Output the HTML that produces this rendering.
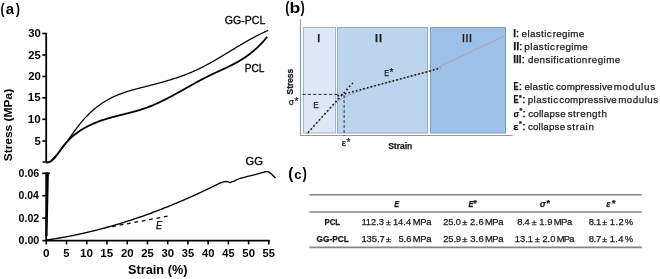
<!DOCTYPE html>
<html><head><meta charset="utf-8">
<style>
html,body{margin:0;padding:0;background:#fff;}
body{width:660px;height:279px;overflow:hidden;}
svg{display:block;font-family:"Liberation Sans", sans-serif;will-change:transform;}
text[fill="#1a1a1a"]{stroke:#1a1a1a;stroke-width:0.25px;}
</style></head>
<body>
<svg width="660" height="279" viewBox="0 0 660 279">
<rect width="660" height="279" fill="#fff"/>
<text x="0.50" y="14.30" font-size="15.4" font-weight="bold" font-style="normal" fill="#000" textLength="4.01" lengthAdjust="spacingAndGlyphs" >(</text>
<text x="5.86" y="14.30" font-size="13.9" font-weight="bold" font-style="normal" fill="#000" textLength="8.34" lengthAdjust="spacingAndGlyphs" >a</text>
<text x="15.69" y="14.30" font-size="15.4" font-weight="bold" font-style="normal" fill="#000" textLength="4.25" lengthAdjust="spacingAndGlyphs" >)</text>
<line x1="46.2" y1="32.8" x2="46.2" y2="162.0" stroke="#000" stroke-width="1.8"/>
<line x1="42.6" y1="162.0" x2="46.2" y2="162.0" stroke="#000" stroke-width="1.5"/>
<line x1="42.3" y1="33.5" x2="46.2" y2="33.5" stroke="#000" stroke-width="1.6"/>
<text x="28.34" y="37.10" font-size="10" font-weight="bold" font-style="normal" fill="#000" textLength="12.52" lengthAdjust="spacingAndGlyphs" >30</text>
<line x1="42.3" y1="55.0" x2="46.2" y2="55.0" stroke="#000" stroke-width="1.6"/>
<text x="28.21" y="58.60" font-size="10" font-weight="bold" font-style="normal" fill="#000" textLength="12.50" lengthAdjust="spacingAndGlyphs" >25</text>
<line x1="42.3" y1="76.5" x2="46.2" y2="76.5" stroke="#000" stroke-width="1.6"/>
<text x="28.21" y="80.10" font-size="10" font-weight="bold" font-style="normal" fill="#000" textLength="12.66" lengthAdjust="spacingAndGlyphs" >20</text>
<line x1="42.3" y1="97.8" x2="46.2" y2="97.8" stroke="#000" stroke-width="1.6"/>
<text x="27.87" y="101.40" font-size="10" font-weight="bold" font-style="normal" fill="#000" textLength="12.85" lengthAdjust="spacingAndGlyphs" >15</text>
<line x1="42.3" y1="119.3" x2="46.2" y2="119.3" stroke="#000" stroke-width="1.6"/>
<text x="27.86" y="122.90" font-size="10" font-weight="bold" font-style="normal" fill="#000" textLength="13.02" lengthAdjust="spacingAndGlyphs" >10</text>
<line x1="42.3" y1="141.0" x2="46.2" y2="141.0" stroke="#000" stroke-width="1.6"/>
<text x="34.45" y="144.60" font-size="10" font-weight="bold" font-style="normal" fill="#000" textLength="6.26" lengthAdjust="spacingAndGlyphs" >5</text>
<line x1="46.2" y1="172.4" x2="46.2" y2="241.4" stroke="#000" stroke-width="1.8"/>
<path d="M46.4,236 L47.1,205 L47.8,173.3" stroke="#000" stroke-width="2.2" fill="none"/>
<line x1="46.2" y1="173.2" x2="49.9" y2="173.2" stroke="#000" stroke-width="1.6"/>
<line x1="42.3" y1="173.3" x2="46.2" y2="173.3" stroke="#000" stroke-width="1.6"/>
<text x="18.58" y="176.70" font-size="10" font-weight="bold" font-style="normal" fill="#000" textLength="20.60" lengthAdjust="spacingAndGlyphs" >0.06</text>
<line x1="42.3" y1="195.7" x2="46.2" y2="195.7" stroke="#000" stroke-width="1.6"/>
<text x="18.59" y="199.10" font-size="10" font-weight="bold" font-style="normal" fill="#000" textLength="20.27" lengthAdjust="spacingAndGlyphs" >0.04</text>
<line x1="42.3" y1="218.1" x2="46.2" y2="218.1" stroke="#000" stroke-width="1.6"/>
<text x="18.58" y="221.50" font-size="10" font-weight="bold" font-style="normal" fill="#000" textLength="20.64" lengthAdjust="spacingAndGlyphs" >0.02</text>
<line x1="42.3" y1="240.6" x2="46.2" y2="240.6" stroke="#000" stroke-width="1.6"/>
<text x="18.58" y="244.00" font-size="10" font-weight="bold" font-style="normal" fill="#000" textLength="20.66" lengthAdjust="spacingAndGlyphs" >0.00</text>
<line x1="45.2" y1="240.6" x2="269.6" y2="240.6" stroke="#000" stroke-width="1.9"/>
<line x1="46.30" y1="240" x2="46.30" y2="244.4" stroke="#000" stroke-width="1.6"/>
<text x="43.03" y="257.00" font-size="10" font-weight="bold" font-style="normal" fill="#000" textLength="6.55" lengthAdjust="spacingAndGlyphs" >0</text>
<line x1="66.53" y1="240" x2="66.53" y2="244.4" stroke="#000" stroke-width="1.6"/>
<text x="63.38" y="257.00" font-size="10" font-weight="bold" font-style="normal" fill="#000" textLength="6.26" lengthAdjust="spacingAndGlyphs" >5</text>
<line x1="86.76" y1="240" x2="86.76" y2="244.4" stroke="#000" stroke-width="1.6"/>
<text x="80.12" y="257.00" font-size="10" font-weight="bold" font-style="normal" fill="#000" textLength="13.02" lengthAdjust="spacingAndGlyphs" >10</text>
<line x1="106.99" y1="240" x2="106.99" y2="244.4" stroke="#000" stroke-width="1.6"/>
<text x="100.36" y="257.00" font-size="10" font-weight="bold" font-style="normal" fill="#000" textLength="12.85" lengthAdjust="spacingAndGlyphs" >15</text>
<line x1="127.22" y1="240" x2="127.22" y2="244.4" stroke="#000" stroke-width="1.6"/>
<text x="120.93" y="257.00" font-size="10" font-weight="bold" font-style="normal" fill="#000" textLength="12.66" lengthAdjust="spacingAndGlyphs" >20</text>
<line x1="147.45" y1="240" x2="147.45" y2="244.4" stroke="#000" stroke-width="1.6"/>
<text x="141.16" y="257.00" font-size="10" font-weight="bold" font-style="normal" fill="#000" textLength="12.50" lengthAdjust="spacingAndGlyphs" >25</text>
<line x1="167.68" y1="240" x2="167.68" y2="244.4" stroke="#000" stroke-width="1.6"/>
<text x="161.52" y="257.00" font-size="10" font-weight="bold" font-style="normal" fill="#000" textLength="12.52" lengthAdjust="spacingAndGlyphs" >30</text>
<line x1="187.91" y1="240" x2="187.91" y2="244.4" stroke="#000" stroke-width="1.6"/>
<text x="181.75" y="257.00" font-size="10" font-weight="bold" font-style="normal" fill="#000" textLength="12.36" lengthAdjust="spacingAndGlyphs" >35</text>
<line x1="208.14" y1="240" x2="208.14" y2="244.4" stroke="#000" stroke-width="1.6"/>
<text x="202.07" y="257.00" font-size="10" font-weight="bold" font-style="normal" fill="#000" textLength="12.43" lengthAdjust="spacingAndGlyphs" >40</text>
<line x1="228.37" y1="240" x2="228.37" y2="244.4" stroke="#000" stroke-width="1.6"/>
<text x="222.30" y="257.00" font-size="10" font-weight="bold" font-style="normal" fill="#000" textLength="12.27" lengthAdjust="spacingAndGlyphs" >45</text>
<line x1="248.60" y1="240" x2="248.60" y2="244.4" stroke="#000" stroke-width="1.6"/>
<text x="242.35" y="257.00" font-size="10" font-weight="bold" font-style="normal" fill="#000" textLength="12.61" lengthAdjust="spacingAndGlyphs" >50</text>
<line x1="268.83" y1="240" x2="268.83" y2="244.4" stroke="#000" stroke-width="1.6"/>
<text x="262.59" y="257.00" font-size="10" font-weight="bold" font-style="normal" fill="#000" textLength="12.46" lengthAdjust="spacingAndGlyphs" >55</text>
<text x="128.13" y="274.10" font-size="11.9" font-weight="bold" font-style="normal" fill="#000" textLength="59.30" lengthAdjust="spacingAndGlyphs" >Strain (%)</text>
<g transform="translate(12.30,161.00) rotate(-90)"><text x="-0.34" y="0" font-size="11.6" font-weight="bold" font-style="normal" fill="#000" textLength="72.44" lengthAdjust="spacingAndGlyphs">Stress (MPa)</text></g>
<path d="M46.40,163.40 L47.10,163.06 L47.80,162.68 L48.50,162.26 L49.20,161.81 L49.90,161.32 L50.60,160.79 L51.30,160.23 L52.00,159.63 L52.70,159.01 L53.40,158.35 L54.10,157.67 L54.80,156.96 L55.50,156.22 L56.20,155.46 L56.90,154.68 L57.60,153.87 L58.30,153.05 L59.00,152.20 L59.70,151.34 L60.40,150.46 L61.10,149.56 L61.80,148.65 L62.50,147.73 L63.20,146.80 L63.90,145.85 L64.60,144.90 L65.30,143.94 L66.00,142.97 L66.70,141.99 L67.40,141.02 L68.10,140.03 L68.80,139.05 L69.50,138.06 L70.20,137.07 L70.90,136.08 L71.60,135.10 L72.30,134.12 L73.00,133.14 L73.70,132.17 L74.40,131.20 L75.10,130.24 L75.80,129.29 L76.50,128.35 L77.20,127.42 L77.90,126.51 L78.60,125.60 L79.30,124.71 L80.00,123.84 L80.70,122.98 L81.40,122.13 L82.10,121.30 L82.80,120.49 L83.50,119.69 L84.20,118.91 L84.90,118.14 L85.60,117.38 L86.30,116.64 L87.00,115.91 L87.70,115.19 L88.40,114.49 L89.10,113.80 L89.80,113.13 L90.50,112.47 L91.20,111.82 L91.90,111.18 L92.60,110.55 L93.30,109.94 L94.00,109.34 L94.70,108.75 L95.40,108.18 L96.10,107.61 L96.80,107.06 L97.50,106.52 L98.20,105.99 L98.90,105.47 L99.60,104.96 L100.30,104.46 L101.00,103.97 L101.70,103.49 L102.40,103.03 L103.10,102.57 L103.80,102.12 L104.50,101.68 L105.20,101.25 L105.90,100.83 L106.60,100.42 L107.30,100.02 L108.00,99.62 L108.70,99.24 L109.40,98.86 L110.10,98.49 L110.80,98.13 L111.50,97.78 L112.20,97.43 L112.90,97.10 L113.60,96.76 L114.30,96.44 L115.00,96.12 L115.70,95.82 L116.40,95.51 L117.10,95.22 L117.80,94.93 L118.50,94.64 L119.20,94.36 L119.90,94.09 L120.60,93.82 L121.30,93.56 L122.00,93.30 L122.70,93.05 L123.40,92.81 L124.10,92.57 L124.80,92.33 L125.50,92.10 L126.20,91.87 L126.90,91.64 L127.60,91.42 L128.30,91.20 L129.00,90.99 L129.70,90.78 L130.40,90.57 L131.10,90.37 L131.80,90.17 L132.50,89.97 L133.20,89.78 L133.90,89.58 L134.60,89.39 L135.30,89.20 L136.00,89.01 L136.70,88.83 L137.40,88.64 L138.10,88.46 L138.80,88.28 L139.50,88.10 L140.20,87.91 L140.90,87.73 L141.60,87.56 L142.30,87.38 L143.00,87.20 L143.70,87.02 L144.40,86.84 L145.10,86.66 L145.80,86.48 L146.50,86.30 L147.20,86.13 L147.90,85.95 L148.60,85.77 L149.30,85.59 L150.00,85.41 L150.70,85.23 L151.40,85.05 L152.10,84.87 L152.80,84.68 L153.50,84.50 L154.20,84.32 L154.90,84.14 L155.60,83.95 L156.30,83.77 L157.00,83.58 L157.70,83.39 L158.40,83.21 L159.10,83.02 L159.80,82.83 L160.50,82.64 L161.20,82.44 L161.90,82.25 L162.60,82.06 L163.30,81.86 L164.00,81.66 L164.70,81.46 L165.40,81.26 L166.10,81.06 L166.80,80.86 L167.50,80.65 L168.20,80.45 L168.90,80.24 L169.60,80.03 L170.30,79.81 L171.00,79.60 L171.70,79.38 L172.40,79.17 L173.10,78.95 L173.80,78.72 L174.50,78.50 L175.20,78.27 L175.90,78.04 L176.60,77.81 L177.30,77.58 L178.00,77.34 L178.70,77.10 L179.40,76.86 L180.10,76.61 L180.80,76.37 L181.50,76.12 L182.20,75.86 L182.90,75.61 L183.60,75.35 L184.30,75.09 L185.00,74.82 L185.70,74.56 L186.40,74.29 L187.10,74.01 L187.80,73.74 L188.50,73.46 L189.20,73.17 L189.90,72.89 L190.60,72.59 L191.30,72.30 L192.00,72.00 L192.70,71.70 L193.40,71.40 L194.10,71.09 L194.80,70.78 L195.50,70.46 L196.20,70.14 L196.90,69.82 L197.60,69.49 L198.30,69.16 L199.00,68.82 L199.70,68.48 L200.40,68.14 L201.10,67.79 L201.80,67.44 L202.50,67.09 L203.20,66.73 L203.90,66.37 L204.60,66.00 L205.30,65.63 L206.00,65.26 L206.70,64.89 L207.40,64.51 L208.10,64.13 L208.80,63.75 L209.50,63.36 L210.20,62.97 L210.90,62.58 L211.60,62.19 L212.30,61.80 L213.00,61.40 L213.70,61.00 L214.40,60.60 L215.10,60.19 L215.80,59.79 L216.50,59.38 L217.20,58.97 L217.90,58.56 L218.60,58.14 L219.30,57.73 L220.00,57.31 L220.70,56.90 L221.40,56.48 L222.10,56.06 L222.80,55.64 L223.50,55.22 L224.20,54.80 L224.90,54.37 L225.60,53.95 L226.30,53.53 L227.00,53.10 L227.70,52.68 L228.40,52.25 L229.10,51.83 L229.80,51.40 L230.50,50.98 L231.20,50.55 L231.90,50.13 L232.60,49.70 L233.30,49.28 L234.00,48.85 L234.70,48.43 L235.40,48.00 L236.10,47.58 L236.80,47.16 L237.50,46.74 L238.20,46.32 L238.90,45.90 L239.60,45.48 L240.30,45.06 L241.00,44.65 L241.70,44.23 L242.40,43.82 L243.10,43.41 L243.80,43.00 L244.50,42.59 L245.20,42.18 L245.90,41.78 L246.60,41.37 L247.30,40.97 L248.00,40.58 L248.70,40.18 L249.40,39.79 L250.10,39.39 L250.80,39.01 L251.50,38.62 L252.20,38.24 L252.90,37.86 L253.60,37.48 L254.30,37.10 L255.00,36.73 L255.70,36.36 L256.40,36.00 L257.10,35.63 L257.80,35.27 L258.50,34.92 L259.20,34.57 L259.90,34.22 L260.60,33.87 L261.30,33.53 L262.00,33.20 L262.70,32.86 L263.40,32.54 L264.10,32.21 L264.80,31.89 L265.50,31.57 L266.20,31.26 L266.90,30.96 L267.60,30.65 L268.20,30.40" stroke="#000" stroke-width="1.25" fill="none" stroke-linejoin="round"/>
<path d="M46.40,161.78 L47.10,162.05 L47.80,162.18 L48.50,162.19 L49.20,162.07 L49.90,161.84 L50.60,161.50 L51.30,161.06 L52.00,160.53 L52.70,159.92 L53.40,159.24 L54.10,158.49 L54.80,157.68 L55.50,156.81 L56.20,155.91 L56.90,154.97 L57.60,154.01 L58.30,153.03 L59.00,152.03 L59.70,151.04 L60.40,150.05 L61.10,149.07 L61.80,148.11 L62.50,147.18 L63.20,146.28 L63.90,145.40 L64.60,144.54 L65.30,143.71 L66.00,142.90 L66.70,142.12 L67.40,141.35 L68.10,140.61 L68.80,139.89 L69.50,139.18 L70.20,138.50 L70.90,137.84 L71.60,137.20 L72.30,136.57 L73.00,135.96 L73.70,135.37 L74.40,134.80 L75.10,134.24 L75.80,133.70 L76.50,133.17 L77.20,132.66 L77.90,132.16 L78.60,131.67 L79.30,131.20 L80.00,130.74 L80.70,130.29 L81.40,129.85 L82.10,129.42 L82.80,129.01 L83.50,128.60 L84.20,128.20 L84.90,127.81 L85.60,127.43 L86.30,127.05 L87.00,126.68 L87.70,126.32 L88.40,125.97 L89.10,125.62 L89.80,125.28 L90.50,124.95 L91.20,124.63 L91.90,124.31 L92.60,123.99 L93.30,123.69 L94.00,123.39 L94.70,123.09 L95.40,122.80 L96.10,122.52 L96.80,122.24 L97.50,121.97 L98.20,121.70 L98.90,121.44 L99.60,121.19 L100.30,120.93 L101.00,120.69 L101.70,120.44 L102.40,120.20 L103.10,119.97 L103.80,119.74 L104.50,119.51 L105.20,119.29 L105.90,119.07 L106.60,118.86 L107.30,118.64 L108.00,118.43 L108.70,118.23 L109.40,118.03 L110.10,117.83 L110.80,117.63 L111.50,117.43 L112.20,117.24 L112.90,117.05 L113.60,116.86 L114.30,116.68 L115.00,116.49 L115.70,116.31 L116.40,116.13 L117.10,115.95 L117.80,115.77 L118.50,115.59 L119.20,115.41 L119.90,115.24 L120.60,115.06 L121.30,114.89 L122.00,114.71 L122.70,114.54 L123.40,114.37 L124.10,114.19 L124.80,114.02 L125.50,113.84 L126.20,113.67 L126.90,113.49 L127.60,113.32 L128.30,113.14 L129.00,112.96 L129.70,112.78 L130.40,112.60 L131.10,112.42 L131.80,112.23 L132.50,112.05 L133.20,111.86 L133.90,111.67 L134.60,111.48 L135.30,111.28 L136.00,111.08 L136.70,110.88 L137.40,110.68 L138.10,110.48 L138.80,110.27 L139.50,110.06 L140.20,109.84 L140.90,109.62 L141.60,109.40 L142.30,109.17 L143.00,108.94 L143.70,108.71 L144.40,108.47 L145.10,108.23 L145.80,107.98 L146.50,107.73 L147.20,107.48 L147.90,107.21 L148.60,106.95 L149.30,106.68 L150.00,106.40 L150.70,106.12 L151.40,105.84 L152.10,105.55 L152.80,105.26 L153.50,104.96 L154.20,104.66 L154.90,104.36 L155.60,104.05 L156.30,103.74 L157.00,103.42 L157.70,103.10 L158.40,102.78 L159.10,102.45 L159.80,102.12 L160.50,101.79 L161.20,101.45 L161.90,101.11 L162.60,100.77 L163.30,100.43 L164.00,100.08 L164.70,99.73 L165.40,99.37 L166.10,99.02 L166.80,98.66 L167.50,98.30 L168.20,97.94 L168.90,97.57 L169.60,97.20 L170.30,96.83 L171.00,96.46 L171.70,96.09 L172.40,95.71 L173.10,95.34 L173.80,94.96 L174.50,94.58 L175.20,94.20 L175.90,93.81 L176.60,93.43 L177.30,93.04 L178.00,92.66 L178.70,92.27 L179.40,91.88 L180.10,91.49 L180.80,91.10 L181.50,90.71 L182.20,90.32 L182.90,89.93 L183.60,89.54 L184.30,89.14 L185.00,88.75 L185.70,88.36 L186.40,87.97 L187.10,87.57 L187.80,87.18 L188.50,86.79 L189.20,86.40 L189.90,86.00 L190.60,85.61 L191.30,85.22 L192.00,84.83 L192.70,84.44 L193.40,84.05 L194.10,83.67 L194.80,83.28 L195.50,82.89 L196.20,82.51 L196.90,82.12 L197.60,81.74 L198.30,81.36 L199.00,80.98 L199.70,80.61 L200.40,80.23 L201.10,79.86 L201.80,79.48 L202.50,79.11 L203.20,78.74 L203.90,78.38 L204.60,78.01 L205.30,77.65 L206.00,77.29 L206.70,76.94 L207.40,76.58 L208.10,76.23 L208.80,75.88 L209.50,75.54 L210.20,75.19 L210.90,74.85 L211.60,74.51 L212.30,74.18 L213.00,73.85 L213.70,73.52 L214.40,73.19 L215.10,72.86 L215.80,72.54 L216.50,72.22 L217.20,71.90 L217.90,71.57 L218.60,71.25 L219.30,70.93 L220.00,70.61 L220.70,70.29 L221.40,69.97 L222.10,69.65 L222.80,69.33 L223.50,69.01 L224.20,68.69 L224.90,68.36 L225.60,68.03 L226.30,67.71 L227.00,67.37 L227.70,67.04 L228.40,66.71 L229.10,66.37 L229.80,66.02 L230.50,65.68 L231.20,65.33 L231.90,64.98 L232.60,64.62 L233.30,64.26 L234.00,63.89 L234.70,63.52 L235.40,63.14 L236.10,62.76 L236.80,62.38 L237.50,61.98 L238.20,61.59 L238.90,61.18 L239.60,60.77 L240.30,60.35 L241.00,59.93 L241.70,59.50 L242.40,59.06 L243.10,58.61 L243.80,58.16 L244.50,57.69 L245.20,57.22 L245.90,56.74 L246.60,56.25 L247.30,55.76 L248.00,55.25 L248.70,54.73 L249.40,54.21 L250.10,53.67 L250.80,53.12 L251.50,52.57 L252.20,52.00 L252.90,51.42 L253.60,50.83 L254.30,50.23 L255.00,49.62 L255.70,48.99 L256.40,48.35 L257.10,47.71 L257.80,47.04 L258.50,46.37 L259.20,45.68 L259.90,44.98 L260.60,44.26 L261.30,43.54 L262.00,42.79 L262.70,42.04 L263.40,41.27 L264.10,40.48 L264.80,39.68 L265.50,38.86 L266.20,38.03 L266.90,37.18 L267.20,36.82" stroke="#000" stroke-width="1.8" fill="none" stroke-linejoin="round"/>
<path d="M46.30,240.07 L47.00,239.97 L47.70,239.87 L48.40,239.76 L49.10,239.66 L49.80,239.56 L50.50,239.45 L51.20,239.35 L51.90,239.24 L52.60,239.13 L53.30,239.02 L54.00,238.91 L54.70,238.80 L55.40,238.68 L56.10,238.57 L56.80,238.45 L57.50,238.34 L58.20,238.22 L58.90,238.10 L59.60,237.98 L60.30,237.86 L61.00,237.74 L61.70,237.61 L62.40,237.49 L63.10,237.36 L63.80,237.24 L64.50,237.11 L65.20,236.98 L65.90,236.85 L66.60,236.72 L67.30,236.59 L68.00,236.45 L68.70,236.32 L69.40,236.18 L70.10,236.05 L70.80,235.91 L71.50,235.77 L72.20,235.63 L72.90,235.49 L73.60,235.35 L74.30,235.21 L75.00,235.06 L75.70,234.92 L76.40,234.77 L77.10,234.62 L77.80,234.47 L78.50,234.32 L79.20,234.17 L79.90,234.02 L80.60,233.87 L81.30,233.71 L82.00,233.56 L82.70,233.40 L83.40,233.25 L84.10,233.09 L84.80,232.93 L85.50,232.77 L86.20,232.61 L86.90,232.44 L87.60,232.28 L88.30,232.12 L89.00,231.95 L89.70,231.78 L90.40,231.62 L91.10,231.45 L91.80,231.28 L92.50,231.10 L93.20,230.93 L93.90,230.76 L94.60,230.58 L95.30,230.41 L96.00,230.23 L96.70,230.06 L97.40,229.88 L98.10,229.70 L98.80,229.52 L99.50,229.33 L100.20,229.15 L100.90,228.97 L101.60,228.78 L102.30,228.60 L103.00,228.41 L103.70,228.22 L104.40,228.03 L105.10,227.84 L105.80,227.65 L106.50,227.46 L107.20,227.27 L107.90,227.07 L108.60,226.88 L109.30,226.68 L110.00,226.48 L110.70,226.28 L111.40,226.08 L112.10,225.88 L112.80,225.68 L113.50,225.48 L114.20,225.27 L114.90,225.07 L115.60,224.86 L116.30,224.66 L117.00,224.45 L117.70,224.24 L118.40,224.03 L119.10,223.82 L119.80,223.61 L120.50,223.39 L121.20,223.18 L121.90,222.96 L122.60,222.75 L123.30,222.53 L124.00,222.31 L124.70,222.09 L125.40,221.87 L126.10,221.65 L126.80,221.43 L127.50,221.20 L128.20,220.98 L128.90,220.75 L129.60,220.53 L130.30,220.30 L131.00,220.07 L131.70,219.84 L132.40,219.61 L133.10,219.38 L133.80,219.15 L134.50,218.91 L135.20,218.68 L135.90,218.44 L136.60,218.21 L137.30,217.97 L138.00,217.73 L138.70,217.49 L139.40,217.25 L140.10,217.01 L140.80,216.77 L141.50,216.52 L142.20,216.28 L142.90,216.03 L143.60,215.79 L144.30,215.54 L145.00,215.29 L145.70,215.04 L146.40,214.79 L147.10,214.54 L147.80,214.28 L148.50,214.03 L149.20,213.78 L149.90,213.52 L150.60,213.26 L151.30,213.01 L152.00,212.75 L152.70,212.49 L153.40,212.23 L154.10,211.97 L154.80,211.70 L155.50,211.44 L156.20,211.18 L156.90,210.91 L157.60,210.64 L158.30,210.38 L159.00,210.11 L159.70,209.84 L160.40,209.57 L161.10,209.30 L161.80,209.02 L162.50,208.75 L163.20,208.48 L163.90,208.20 L164.60,207.92 L165.30,207.65 L166.00,207.37 L166.70,207.09 L167.40,206.81 L168.10,206.53 L168.80,206.25 L169.50,205.96 L170.20,205.68 L170.90,205.39 L171.60,205.11 L172.30,204.82 L173.00,204.53 L173.70,204.24 L174.40,203.95 L175.10,203.66 L175.80,203.37 L176.50,203.08 L177.20,202.78 L177.90,202.49 L178.60,202.19 L179.30,201.90 L180.00,201.60 L180.70,201.30 L181.40,201.00 L182.10,200.70 L182.80,200.40 L183.50,200.10 L184.20,199.80 L184.90,199.49 L185.60,199.19 L186.30,198.88 L187.00,198.57 L187.70,198.27 L188.40,197.96 L189.10,197.65 L189.80,197.34 L190.50,197.02 L191.20,196.71 L191.90,196.40 L192.60,196.08 L193.30,195.77 L194.00,195.45 L194.70,195.13 L195.40,194.82 L196.10,194.50 L196.80,194.18 L197.50,193.86 L198.20,193.53 L198.90,193.21 L199.60,192.89 L200.30,192.56 L201.00,192.24 L201.70,191.91 L202.40,191.58 L203.10,191.25 L203.80,190.93 L204.50,190.59 L205.20,190.26 L205.90,189.93 L206.60,189.60 L207.30,189.26 L208.00,188.93 L208.70,188.59 L209.40,188.26 L210.10,187.92 L210.80,187.58 L211.50,187.24 L212.20,186.90 L212.90,186.56 L213.60,186.22 L214.30,185.87 L215.00,185.53 L215.70,185.19 L216.40,184.84 L217.00,184.54 L217.00,184.60 C217.58,184.32 219.42,183.37 220.50,182.90 C221.58,182.43 222.52,182.03 223.50,181.80 C224.48,181.57 225.57,181.48 226.40,181.50 C227.23,181.52 227.92,181.73 228.50,181.90 C229.08,182.07 229.43,182.45 229.90,182.50 C230.37,182.55 230.75,182.38 231.30,182.20 C231.85,182.02 232.42,181.73 233.20,181.40 C233.98,181.07 234.70,180.73 236.00,180.20 C237.30,179.67 238.68,178.92 241.00,178.20 C243.32,177.48 246.92,176.67 249.90,175.90 C252.88,175.13 256.63,174.20 258.90,173.60 C261.17,173.00 262.32,172.62 263.50,172.30 C264.68,171.98 265.32,171.80 266.00,171.70 C266.68,171.60 267.07,171.58 267.60,171.70 C268.13,171.82 268.57,172.00 269.20,172.40 C269.83,172.80 270.35,173.15 271.40,174.10 C272.45,175.05 274.82,177.43 275.50,178.10" stroke="#000" stroke-width="1.35" fill="none" stroke-linejoin="round"/>
<line x1="101.0" y1="228.6" x2="167.6" y2="216.2" stroke="#000" stroke-width="1.25" stroke-dasharray="3.8,3.7" stroke-dashoffset="3.6"/>
<text x="156.01" y="228.90" font-size="10.6" font-weight="normal" font-style="italic" fill="#000" textLength="6.20" lengthAdjust="spacingAndGlyphs" stroke="#000" stroke-width="0.25">E</text>
<text x="224.87" y="24.40" font-size="11.0" font-weight="normal" font-style="normal" fill="#000" textLength="40.48" lengthAdjust="spacingAndGlyphs" stroke="#000" stroke-width="0.3">GG-PCL</text>
<text x="244.67" y="71.90" font-size="10.6" font-weight="normal" font-style="normal" fill="#000" textLength="19.66" lengthAdjust="spacingAndGlyphs" stroke="#000" stroke-width="0.3">PCL</text>
<text x="245.44" y="165.30" font-size="11.0" font-weight="normal" font-style="normal" fill="#000" textLength="17.40" lengthAdjust="spacingAndGlyphs" stroke="#000" stroke-width="0.3">GG</text>
<text x="285.16" y="13.40" font-size="16.6" font-weight="bold" font-style="normal" fill="#000" textLength="4.25" lengthAdjust="spacingAndGlyphs" >(</text>
<text x="289.64" y="13.40" font-size="15.0" font-weight="bold" font-style="normal" fill="#000" textLength="10.79" lengthAdjust="spacingAndGlyphs" >b</text>
<text x="300.59" y="13.40" font-size="16.6" font-weight="bold" font-style="normal" fill="#000" textLength="4.25" lengthAdjust="spacingAndGlyphs" >)</text>
<rect x="303.5" y="27.5" width="32" height="105.5" fill="#dce8f5" stroke="#9fb7d3" stroke-width="1"/>
<rect x="337.5" y="27.5" width="90" height="105.5" fill="#bcd4ee" stroke="#8eaacc" stroke-width="1"/>
<rect x="430.5" y="27.5" width="75" height="105.5" fill="#9dc0e6" stroke="#7f9fc8" stroke-width="1"/>
<line x1="300.5" y1="19.2" x2="300.5" y2="136" stroke="#9a9a9a" stroke-width="1.2"/>
<line x1="300" y1="135.5" x2="512.8" y2="135.5" stroke="#9a9a9a" stroke-width="1.2"/>
<path d="M306.5,134 L333,105 Q343,95.5 373,86.4 L430,71.0 L504.5,36" stroke="#a6a6a6" stroke-width="1.0" fill="none"/>
<line x1="302.5" y1="94.4" x2="337.8" y2="94.4" stroke="#2a2a2a" stroke-width="0.95" stroke-dasharray="3.2,2.1"/>
<line x1="344.1" y1="95" x2="344.1" y2="136" stroke="#333" stroke-width="1" stroke-dasharray="3,2"/>
<line x1="308" y1="132.7" x2="352.8" y2="83.0" stroke="#111" stroke-width="1.6" stroke-dasharray="1.6,2.5"/>
<line x1="337.5" y1="95.8" x2="440.5" y2="68.2" stroke="#111" stroke-width="1.6" stroke-dasharray="1.6,2.2"/>
<text x="316.71" y="42.40" font-size="11.8" font-weight="normal" font-style="normal" fill="#1a1a1a" textLength="3.87" lengthAdjust="spacingAndGlyphs" >I</text>
<text x="374.48" y="42.40" font-size="11.8" font-weight="normal" font-style="normal" fill="#1a1a1a" textLength="7.94" lengthAdjust="spacingAndGlyphs" >II</text>
<text x="461.85" y="42.40" font-size="11.8" font-weight="normal" font-style="normal" fill="#1a1a1a" textLength="10.40" lengthAdjust="spacingAndGlyphs" >III</text>
<text x="313.32" y="108.40" font-size="9.3" font-weight="normal" font-style="normal" fill="#1a1a1a" textLength="5.54" lengthAdjust="spacingAndGlyphs" >E</text>
<text x="384.29" y="76.00" font-size="9.4" font-weight="normal" font-style="normal" fill="#1a1a1a" textLength="4.92" lengthAdjust="spacingAndGlyphs" >E</text>
<text x="389.60" y="76.10" font-size="10" font-weight="normal" font-style="normal" fill="#1a1a1a" >*</text>
<text x="341.66" y="145.50" font-size="8.8" font-weight="normal" font-style="normal" fill="#1a1a1a" textLength="4.43" lengthAdjust="spacingAndGlyphs" >ε</text>
<text x="346.50" y="146.30" font-size="10" font-weight="normal" font-style="normal" fill="#1a1a1a" >*</text>
<text x="388.15" y="148.90" font-size="9.0" font-weight="bold" font-style="normal" fill="#1a1a1a" textLength="24.17" lengthAdjust="spacingAndGlyphs" >Strain</text>
<g transform="translate(292.60,94.20) rotate(-90)"><text x="-0.24" y="0" font-size="8.8" font-weight="bold" font-style="normal" fill="#1a1a1a" textLength="25.58" lengthAdjust="spacingAndGlyphs">Stress</text></g>
<text x="288.64" y="105.20" font-size="9.2" font-weight="normal" font-style="normal" fill="#1a1a1a" textLength="5.29" lengthAdjust="spacingAndGlyphs" >σ</text>
<text x="294.40" y="105.20" font-size="10" font-weight="normal" font-style="normal" fill="#1a1a1a" >*</text>
<text x="513.35" y="36.80" font-size="10.8" font-weight="bold" font-style="normal" fill="#1a1a1a" textLength="2.70" lengthAdjust="spacingAndGlyphs" >I</text>
<text x="515.75" y="36.80" font-size="10.8" font-weight="normal" font-style="normal" fill="#1a1a1a" textLength="3.50" lengthAdjust="spacingAndGlyphs" >:</text>
<text x="521.58" y="36.80" font-size="9.8" font-weight="normal" font-style="normal" fill="#1a1a1a" letter-spacing="0.383" >elastic</text>
<text x="552.85" y="36.80" font-size="9.8" font-weight="normal" font-style="normal" fill="#1a1a1a" letter-spacing="0.266" >regime</text>
<text x="513.17" y="50.10" font-size="10.8" font-weight="bold" font-style="normal" fill="#1a1a1a" textLength="6.06" lengthAdjust="spacingAndGlyphs" >II</text>
<text x="518.95" y="50.10" font-size="10.8" font-weight="normal" font-style="normal" fill="#1a1a1a" textLength="3.50" lengthAdjust="spacingAndGlyphs" >:</text>
<text x="524.37" y="50.10" font-size="9.8" font-weight="normal" font-style="normal" fill="#1a1a1a" letter-spacing="0.452" >plastic</text>
<text x="556.05" y="50.10" font-size="9.8" font-weight="normal" font-style="normal" fill="#1a1a1a" letter-spacing="0.326" >regime</text>
<text x="513.23" y="63.40" font-size="10.8" font-weight="bold" font-style="normal" fill="#1a1a1a" textLength="8.34" lengthAdjust="spacingAndGlyphs" >III</text>
<text x="521.45" y="63.40" font-size="10.8" font-weight="normal" font-style="normal" fill="#1a1a1a" textLength="3.50" lengthAdjust="spacingAndGlyphs" >:</text>
<text x="527.89" y="63.40" font-size="9.8" font-weight="normal" font-style="normal" fill="#1a1a1a" letter-spacing="0.414" >densification</text>
<text x="588.05" y="63.40" font-size="9.8" font-weight="normal" font-style="normal" fill="#1a1a1a" letter-spacing="0.446" >regime</text>
<text x="513.50" y="90.00" font-size="10.8" font-weight="bold" font-style="normal" fill="#1a1a1a" textLength="4.99" lengthAdjust="spacingAndGlyphs" >E</text>
<text x="518.55" y="90.00" font-size="10.8" font-weight="normal" font-style="normal" fill="#1a1a1a" textLength="3.79" lengthAdjust="spacingAndGlyphs" >:</text>
<text x="524.38" y="90.00" font-size="9.8" font-weight="normal" font-style="normal" fill="#1a1a1a" letter-spacing="0.266" >elastic</text>
<text x="556.08" y="90.00" font-size="9.8" font-weight="normal" font-style="normal" fill="#1a1a1a" letter-spacing="0.135" >compressive</text>
<text x="613.75" y="90.00" font-size="9.8" font-weight="normal" font-style="normal" fill="#1a1a1a" letter-spacing="0.710" >modulus</text>
<text x="513.50" y="103.30" font-size="10.8" font-weight="bold" font-style="normal" fill="#1a1a1a" textLength="4.99" lengthAdjust="spacingAndGlyphs" >E</text>
<text x="519.00" y="99.70" font-size="7" font-weight="bold" font-style="normal" fill="#1a1a1a" >*</text>
<text x="521.66" y="103.30" font-size="10.8" font-weight="normal" font-style="normal" fill="#1a1a1a" textLength="4.09" lengthAdjust="spacingAndGlyphs" >:</text>
<text x="527.67" y="103.30" font-size="9.8" font-weight="normal" font-style="normal" fill="#1a1a1a" letter-spacing="0.452" >plastic</text>
<text x="559.28" y="103.30" font-size="9.8" font-weight="normal" font-style="normal" fill="#1a1a1a" letter-spacing="0.255" >compressive</text>
<text x="618.15" y="103.30" font-size="9.8" font-weight="normal" font-style="normal" fill="#1a1a1a" letter-spacing="0.510" >modulus</text>
<text x="513.38" y="116.60" font-size="9.6" font-weight="bold" font-style="normal" fill="#1a1a1a" textLength="5.69" lengthAdjust="spacingAndGlyphs" >σ</text>
<text x="519.50" y="113.00" font-size="7" font-weight="bold" font-style="normal" fill="#1a1a1a" >*</text>
<text x="522.06" y="116.60" font-size="10.8" font-weight="normal" font-style="normal" fill="#1a1a1a" textLength="4.09" lengthAdjust="spacingAndGlyphs" >:</text>
<text x="528.18" y="116.60" font-size="9.8" font-weight="normal" font-style="normal" fill="#1a1a1a" letter-spacing="0.214" >collapse</text>
<text x="567.63" y="116.60" font-size="9.8" font-weight="normal" font-style="normal" fill="#1a1a1a" letter-spacing="0.543" >strength</text>
<text x="513.28" y="129.90" font-size="9.6" font-weight="bold" font-style="normal" fill="#1a1a1a" textLength="5.30" lengthAdjust="spacingAndGlyphs" >ε</text>
<text x="519.00" y="126.30" font-size="7" font-weight="bold" font-style="normal" fill="#1a1a1a" >*</text>
<text x="521.66" y="129.90" font-size="10.8" font-weight="normal" font-style="normal" fill="#1a1a1a" textLength="4.09" lengthAdjust="spacingAndGlyphs" >:</text>
<text x="527.88" y="129.90" font-size="9.8" font-weight="normal" font-style="normal" fill="#1a1a1a" letter-spacing="0.185" >collapse</text>
<text x="566.83" y="129.90" font-size="9.8" font-weight="normal" font-style="normal" fill="#1a1a1a" letter-spacing="0.609" >strain</text>
<text x="288.14" y="178.70" font-size="15.8" font-weight="bold" font-style="normal" fill="#000" textLength="5.07" lengthAdjust="spacingAndGlyphs" >(</text>
<text x="294.28" y="178.70" font-size="13.0" font-weight="bold" font-style="normal" fill="#000" textLength="7.41" lengthAdjust="spacingAndGlyphs" >c</text>
<text x="302.39" y="178.70" font-size="15.8" font-weight="bold" font-style="normal" fill="#000" textLength="4.37" lengthAdjust="spacingAndGlyphs" >)</text>
<line x1="309.5" y1="194.8" x2="641.8" y2="194.8" stroke="#858585" stroke-width="1.6"/>
<line x1="309.5" y1="212.0" x2="641.8" y2="212.0" stroke="#858585" stroke-width="1.6"/>
<line x1="309.5" y1="247.4" x2="641.8" y2="247.4" stroke="#858585" stroke-width="1.6"/>
<text x="394.27" y="206.90" font-size="8.8" font-weight="bold" font-style="italic" fill="#1a1a1a" textLength="4.95" lengthAdjust="spacingAndGlyphs" >E</text>
<text x="468.47" y="206.90" font-size="8.8" font-weight="bold" font-style="italic" fill="#1a1a1a" textLength="4.95" lengthAdjust="spacingAndGlyphs" >E</text>
<text x="473.30" y="205.90" font-size="9.2" font-weight="bold" font-style="normal" fill="#1a1a1a" >*</text>
<text x="539.72" y="206.90" font-size="8.8" font-weight="bold" font-style="italic" fill="#1a1a1a" textLength="6.00" lengthAdjust="spacingAndGlyphs" >σ</text>
<text x="546.60" y="205.90" font-size="9.2" font-weight="bold" font-style="normal" fill="#1a1a1a" >*</text>
<text x="606.29" y="206.90" font-size="8.8" font-weight="bold" font-style="italic" fill="#1a1a1a" textLength="4.03" lengthAdjust="spacingAndGlyphs" >ε</text>
<text x="611.90" y="205.90" font-size="9.2" font-weight="bold" font-style="normal" fill="#1a1a1a" >*</text>
<text x="324.48" y="224.60" font-size="8.8" font-weight="bold" font-style="normal" fill="#1a1a1a" textLength="15.66" lengthAdjust="spacingAndGlyphs" >PCL</text>
<text x="316.56" y="242.10" font-size="8.8" font-weight="bold" font-style="normal" fill="#1a1a1a" textLength="32.30" lengthAdjust="spacingAndGlyphs" >GG-PCL</text>
<text x="361.38" y="224.60" font-size="9.4" font-weight="normal" font-style="normal" fill="#1a1a1a" letter-spacing="-0.023" >112.3</text>
<text x="386.03" y="224.60" font-size="7.8" font-weight="normal" font-style="normal" fill="#1a1a1a" textLength="4.63" lengthAdjust="spacingAndGlyphs" >±</text>
<text x="392.88" y="224.60" font-size="9.4" font-weight="normal" font-style="normal" fill="#1a1a1a" letter-spacing="0.032" >14.4</text>
<text x="412.83" y="224.60" font-size="9.4" font-weight="normal" font-style="normal" fill="#1a1a1a" letter-spacing="-0.278" >MPa</text>
<text x="443.23" y="224.60" font-size="9.4" font-weight="normal" font-style="normal" fill="#1a1a1a" letter-spacing="-0.152" >25.0</text>
<text x="462.31" y="224.60" font-size="7.8" font-weight="normal" font-style="normal" fill="#1a1a1a" textLength="5.08" lengthAdjust="spacingAndGlyphs" >±</text>
<text x="470.03" y="224.60" font-size="9.4" font-weight="normal" font-style="normal" fill="#1a1a1a" letter-spacing="0.309" >2.6</text>
<text x="484.93" y="224.60" font-size="9.4" font-weight="normal" font-style="normal" fill="#1a1a1a" letter-spacing="-0.428" >MPa</text>
<text x="517.19" y="224.60" font-size="9.4" font-weight="normal" font-style="normal" fill="#1a1a1a" letter-spacing="-0.242" >8.4</text>
<text x="531.73" y="224.60" font-size="7.8" font-weight="normal" font-style="normal" fill="#1a1a1a" textLength="4.74" lengthAdjust="spacingAndGlyphs" >±</text>
<text x="539.18" y="224.60" font-size="9.4" font-weight="normal" font-style="normal" fill="#1a1a1a" letter-spacing="0.147" >1.9</text>
<text x="553.73" y="224.60" font-size="9.4" font-weight="normal" font-style="normal" fill="#1a1a1a" letter-spacing="-0.428" >MPa</text>
<text x="588.69" y="224.60" font-size="9.4" font-weight="normal" font-style="normal" fill="#1a1a1a" letter-spacing="-0.300" >8.1</text>
<text x="602.33" y="224.60" font-size="7.8" font-weight="normal" font-style="normal" fill="#1a1a1a" textLength="4.74" lengthAdjust="spacingAndGlyphs" >±</text>
<text x="609.78" y="224.60" font-size="9.4" font-weight="normal" font-style="normal" fill="#1a1a1a" letter-spacing="0.461" >1.2</text>
<text x="624.76" y="224.60" font-size="9.4" font-weight="normal" font-style="normal" fill="#1a1a1a" letter-spacing="0.000" >%</text>
<text x="361.38" y="242.10" font-size="9.4" font-weight="normal" font-style="normal" fill="#1a1a1a" letter-spacing="-0.009" >135.7</text>
<text x="386.02" y="242.10" font-size="7.8" font-weight="normal" font-style="normal" fill="#1a1a1a" textLength="4.86" lengthAdjust="spacingAndGlyphs" >±</text>
<text x="398.42" y="242.10" font-size="9.4" font-weight="normal" font-style="normal" fill="#1a1a1a" letter-spacing="-0.039" >5.6</text>
<text x="412.83" y="242.10" font-size="9.4" font-weight="normal" font-style="normal" fill="#1a1a1a" letter-spacing="-0.278" >MPa</text>
<text x="443.23" y="242.10" font-size="9.4" font-weight="normal" font-style="normal" fill="#1a1a1a" letter-spacing="-0.126" >25.9</text>
<text x="462.31" y="242.10" font-size="7.8" font-weight="normal" font-style="normal" fill="#1a1a1a" textLength="5.08" lengthAdjust="spacingAndGlyphs" >±</text>
<text x="470.14" y="242.10" font-size="9.4" font-weight="normal" font-style="normal" fill="#1a1a1a" letter-spacing="0.252" >3.6</text>
<text x="484.93" y="242.10" font-size="9.4" font-weight="normal" font-style="normal" fill="#1a1a1a" letter-spacing="-0.428" >MPa</text>
<text x="514.78" y="242.10" font-size="9.4" font-weight="normal" font-style="normal" fill="#1a1a1a" letter-spacing="-0.007" >13.1</text>
<text x="534.71" y="242.10" font-size="7.8" font-weight="normal" font-style="normal" fill="#1a1a1a" textLength="5.08" lengthAdjust="spacingAndGlyphs" >±</text>
<text x="542.43" y="242.10" font-size="9.4" font-weight="normal" font-style="normal" fill="#1a1a1a" letter-spacing="-0.014" >2.0</text>
<text x="556.83" y="242.10" font-size="9.4" font-weight="normal" font-style="normal" fill="#1a1a1a" letter-spacing="-0.778" >MPa</text>
<text x="588.69" y="242.10" font-size="9.4" font-weight="normal" font-style="normal" fill="#1a1a1a" letter-spacing="-0.293" >8.7</text>
<text x="602.33" y="242.10" font-size="7.8" font-weight="normal" font-style="normal" fill="#1a1a1a" textLength="4.74" lengthAdjust="spacingAndGlyphs" >±</text>
<text x="609.78" y="242.10" font-size="9.4" font-weight="normal" font-style="normal" fill="#1a1a1a" letter-spacing="0.362" >1.4</text>
<text x="624.76" y="242.10" font-size="9.4" font-weight="normal" font-style="normal" fill="#1a1a1a" letter-spacing="0.000" >%</text>
</svg>
</body></html>
